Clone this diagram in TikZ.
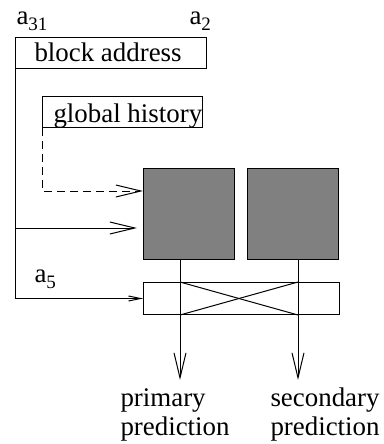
\documentclass[tikz,border=0pt]{standalone}
\usepackage{fontspec}
\setmainfont{Liberation Serif}
\usetikzlibrary{arrows.meta}
\begin{document}
\begin{tikzpicture}[x=1pt,y=-1pt, line width=1pt,
  lbl/.style={inner sep=0pt, anchor=base west, font=\fontsize{26.9}{30}\selectfont},
  box/.style={draw, inner sep=0pt, anchor=north west},
  gbox/.style={box, fill=gray, minimum width=91pt, minimum height=91pt},
  bigtip/.style={-{Straight Barb[length=25pt,width=12pt]}},
  smalltip/.style={-{Straight Barb[length=12pt,width=5pt]}}]
\useasboundingbox (0,0) rectangle (383,444);
\newcommand{\sbs}[1]{{\fontsize{19}{19}\selectfont\raisebox{-6pt}{#1}}}
% boxes
\node[box, minimum width=191pt, minimum height=31pt] (ba) at (15,37) {};
\node[box, minimum width=160pt, minimum height=31pt] (gh) at (42,96) {};
\node[gbox] (g1) at (143,168) {};
\node[gbox] (g2) at (247,168) {};
\node[box, minimum width=196pt, minimum height=32pt] (mux) at (143,282) {};
% texts
\node[lbl] (bat) at (34,62) {block address};
\node[lbl] (ght) at (53,122) {global history};
\node[lbl] (a31) at (16,25) {a\sbs{31}};
\node[lbl] (a2) at (189,25) {a\sbs{2}};
\node[lbl] (a5) at (34,282) {a\sbs{5}};
\node[lbl] (p1) at (120,406) {primary};
\node[lbl] (p2) at (120,435) {prediction};
\node[lbl] (s1) at (270,406) {secondary};
\node[lbl] (s2) at (270,435) {prediction};
% coordinates
\coordinate (j) at (15,228);
\coordinate (dh) at (143,191);
\coordinate (o1) at (180,380);
\coordinate (o2) at (298,380);
% connectors
\draw[smalltip] (ba.south west) |- (mux.west);
\draw[bigtip, shorten >=6pt] (j) -- (g1.west |- j);
\draw[bigtip, dash pattern=on 8pt off 5pt] (gh.south west) |- (dh);
\draw[bigtip] (g1.south -| o1) -- (o1);
\draw[bigtip] (g2.south -| o2) -- (o2);
\draw (mux.north -| o1) -- (mux.south -| o2);
\draw (mux.south -| o1) -- (mux.north -| o2);
\end{tikzpicture}
\end{document}
